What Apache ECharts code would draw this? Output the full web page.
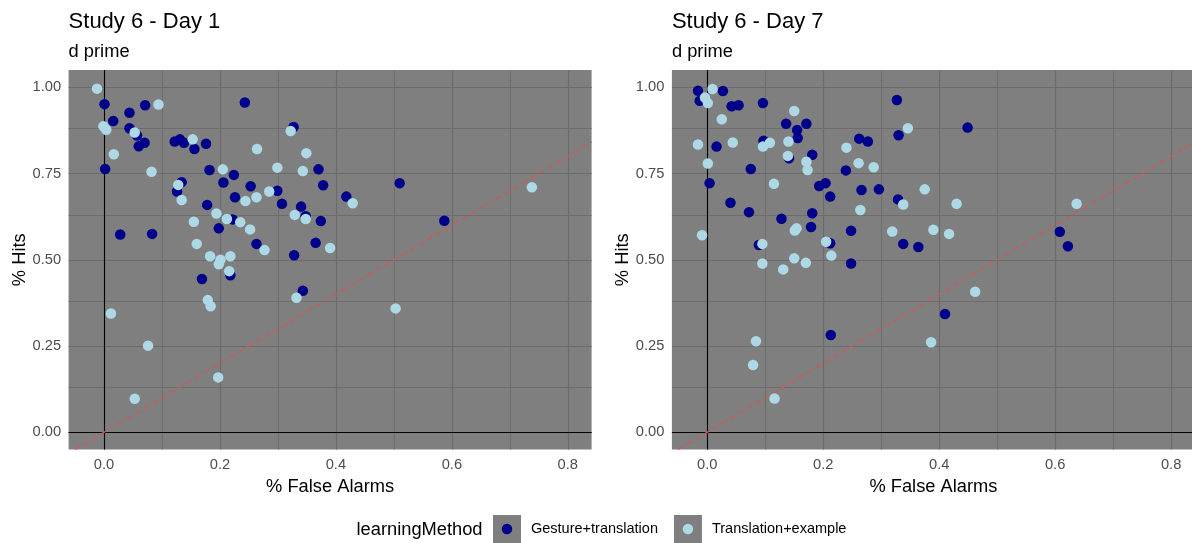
<!DOCTYPE html>
<html>
<head>
<meta charset="utf-8">
<script src="https://cdn.jsdelivr.net/npm/echarts@6/dist/echarts.min.js"></script>
<style>
  html, body { margin: 0; padding: 0; background: #ffffff; }
  #chart { width: 1192px; height: 543px; }
</style>
</head>
<body>
<div id="chart"></div>
<script>
// ---- data -------------------------------------------------------------
const panelTitles = ['Study 6 - Day 1', 'Study 6 - Day 7'];
const panelSubtitle = 'd prime';
const xAxisTitle = '% False Alarms';
const yAxisTitle = '% Hits';
const legendTitle = 'learningMethod';
const methods = ['Gesture+translation', 'Translation+example'];

// tick positions
const xMajor = [0, 0.2, 0.4, 0.6, 0.8];
const xMinor = [0.1, 0.3, 0.5, 0.7];
const yMajor = [0, 0.25, 0.5, 0.75, 1];
const yMinor = [0.125, 0.375, 0.625, 0.875];

// [false-alarm rate, hit rate] per participant
const day1Gesture = [
  [0.001, 0.951], [0.071, 0.948], [0.243, 0.956], [0.044, 0.926], [0.016, 0.902],
  [0.044, 0.881], [0.057, 0.860], [0.070, 0.839], [0.060, 0.829], [0.122, 0.843],
  [0.131, 0.849], [0.138, 0.839], [0.156, 0.821], [0.176, 0.836], [0.327, 0.885],
  [0.002, 0.763], [0.182, 0.760], [0.224, 0.746], [0.206, 0.724], [0.370, 0.762],
  [0.378, 0.716], [0.134, 0.725], [0.126, 0.698], [0.253, 0.713], [0.226, 0.681],
  [0.299, 0.700], [0.307, 0.662], [0.340, 0.654], [0.348, 0.626], [0.374, 0.612],
  [0.365, 0.549], [0.178, 0.659], [0.222, 0.617], [0.198, 0.591], [0.028, 0.573],
  [0.083, 0.575], [0.263, 0.546], [0.328, 0.513], [0.218, 0.455], [0.169, 0.444],
  [0.343, 0.410], [0.418, 0.683], [0.510, 0.722], [0.587, 0.613]
];
const day1Translation = [
  [-0.012, 0.996], [0.094, 0.950], [-0.001, 0.887], [0.004, 0.877], [0.053, 0.869],
  [0.017, 0.806], [0.153, 0.849], [0.322, 0.873], [0.264, 0.821], [0.349, 0.809],
  [0.082, 0.755], [0.205, 0.762], [0.299, 0.767], [0.343, 0.757], [0.128, 0.717],
  [0.134, 0.673], [0.244, 0.670], [0.263, 0.681], [0.285, 0.698], [0.329, 0.630],
  [0.348, 0.618], [0.390, 0.534], [0.194, 0.634], [0.212, 0.618], [0.235, 0.609],
  [0.252, 0.588], [0.155, 0.610], [0.160, 0.546], [0.277, 0.528], [0.183, 0.510],
  [0.201, 0.500], [0.218, 0.510], [0.198, 0.487], [0.216, 0.467], [0.332, 0.390],
  [0.179, 0.383], [0.184, 0.365], [0.012, 0.344], [0.076, 0.251], [0.197, 0.159],
  [0.053, 0.097], [0.429, 0.664], [0.738, 0.710], [0.503, 0.359]
];
const day7Gesture = [
  [-0.016, 0.990], [-0.013, 0.961], [0.027, 0.989], [0.042, 0.945], [0.054, 0.948],
  [0.096, 0.954], [0.136, 0.894], [0.171, 0.894], [0.155, 0.876], [0.156, 0.853],
  [0.016, 0.828], [0.097, 0.845], [0.181, 0.804], [0.141, 0.794], [0.075, 0.763],
  [0.004, 0.722], [0.262, 0.851], [0.277, 0.843], [0.327, 0.963], [0.330, 0.861],
  [0.239, 0.759], [0.193, 0.714], [0.204, 0.722], [0.212, 0.683], [0.266, 0.702],
  [0.296, 0.704], [0.329, 0.675], [0.040, 0.665], [0.072, 0.638], [0.128, 0.619],
  [0.181, 0.635], [0.179, 0.595], [0.248, 0.584], [0.338, 0.546], [0.364, 0.537],
  [0.089, 0.543], [0.212, 0.548], [0.248, 0.489], [0.213, 0.282], [0.449, 0.883],
  [0.608, 0.581], [0.622, 0.539], [0.410, 0.343]
];
const day7Translation = [
  [-0.004, 0.970], [0.001, 0.954], [0.009, 0.995], [0.025, 0.907], [0.150, 0.931],
  [-0.016, 0.834], [0.044, 0.840], [0.096, 0.828], [0.108, 0.839], [0.140, 0.843],
  [0.139, 0.801], [0.171, 0.784], [0.173, 0.760], [0.001, 0.779], [0.115, 0.720],
  [0.240, 0.825], [0.346, 0.881], [0.261, 0.780], [0.287, 0.768], [0.375, 0.704],
  [0.338, 0.660], [0.264, 0.644], [0.151, 0.585], [0.154, 0.591], [0.319, 0.582],
  [-0.009, 0.571], [0.095, 0.546], [0.205, 0.552], [0.214, 0.512], [0.095, 0.489],
  [0.131, 0.472], [0.150, 0.504], [0.170, 0.491], [0.084, 0.264], [0.079, 0.195],
  [0.116, 0.098], [0.386, 0.261], [0.430, 0.662], [0.390, 0.587], [0.417, 0.575],
  [0.637, 0.662], [0.462, 0.407]
];

const panelData = [
  [day1Gesture, day1Translation],
  [day7Gesture, day7Translation]
];

// ---- styling ----------------------------------------------------------
const FONT = '"Liberation Sans", Arial, Helvetica, sans-serif';
const methodColors = ['#00008B', '#ADD8E6'];
const PANEL_BG = '#7F7F7F';
const GRID_COLOR = '#6B6B6B';
const X_RANGE = [-0.061, 0.841];
const Y_RANGE = [-0.05, 1.05];
const panelLeft = [68.6, 671.9];
const PANEL_TOP = 70;
const PANEL_W = 523;
const PANEL_H = 379.5;

// legend key: a small dot centred in a 28x28 box
const DOT_ICON = 'path://M0,0M28,28M8.75,14A5.25,5.25,0,1,0,19.25,14A5.25,5.25,0,1,0,8.75,14Z';

const chart = echarts.init(document.getElementById('chart'), null, { renderer: 'canvas' });

const grids = [], xAxes = [], yAxes = [], series = [], titles = [];

panelLeft.forEach((left, i) => {
  grids.push({
    left: left, top: PANEL_TOP, width: PANEL_W, height: PANEL_H,
    show: true, backgroundColor: PANEL_BG, borderWidth: 0,
    containLabel: false, outerBoundsMode: 'none'
  });
  xAxes.push({
    type: 'value', gridIndex: i, min: X_RANGE[0], max: X_RANGE[1],
    axisLine: { show: false },
    axisTick: { show: true, length: 4, customValues: xMajor, lineStyle: { color: '#333333', width: 1 } },
    axisLabel: {
      show: true, customValues: xMajor, margin: 8,
      color: '#4D4D4D', fontSize: 14.7, fontFamily: FONT,
      formatter: v => v.toFixed(1)
    },
    splitLine: { show: false },
    name: xAxisTitle, nameLocation: 'middle', nameGap: 28,
    nameTextStyle: { color: '#000000', fontSize: 18.3, fontFamily: FONT }
  });
  yAxes.push({
    type: 'value', gridIndex: i, min: Y_RANGE[0], max: Y_RANGE[1],
    axisLine: { show: false },
    axisTick: { show: true, length: 4, customValues: yMajor, lineStyle: { color: '#333333', width: 1 } },
    axisLabel: {
      show: true, customValues: yMajor, margin: 7.5,
      color: '#4D4D4D', fontSize: 14.7, fontFamily: FONT,
      formatter: v => v.toFixed(2)
    },
    splitLine: { show: false },
    name: yAxisTitle, nameLocation: 'middle', nameGap: 39,
    nameTextStyle: { color: '#000000', fontSize: 18.3, fontFamily: FONT }
  });

  // panel grid lines (minor, then major) and the zero reference lines
  const gridLine = (key, v, w) => ({ [key]: v, lineStyle: { color: GRID_COLOR, width: w, type: 'solid' } });
  series.push({
    type: 'scatter', xAxisIndex: i, yAxisIndex: i, data: [], silent: true,
    markLine: {
      silent: true, symbol: ['none', 'none'], label: { show: false }, z: 1,
      animation: false, emphasis: { disabled: true },
      data: [
        ...xMinor.map(v => gridLine('xAxis', v, 0.9)),
        ...yMinor.map(v => gridLine('yAxis', v, 0.9)),
        ...xMajor.map(v => gridLine('xAxis', v, 1.2)),
        ...yMajor.map(v => gridLine('yAxis', v, 1.2)),
        { xAxis: 0, lineStyle: { color: '#000000', width: 1.1, type: 'solid' } },
        { yAxis: 0, lineStyle: { color: '#000000', width: 1.1, type: 'solid' } }
      ]
    }
  });

  // identity line y = x across the visible panel
  const lo = Math.max(X_RANGE[0], Y_RANGE[0]);
  const hi = Math.min(X_RANGE[1], Y_RANGE[1]);
  series.push({
    type: 'line', xAxisIndex: i, yAxisIndex: i, silent: true, z: 3,
    data: [[lo, lo], [hi, hi]], showSymbol: false, symbol: 'none',
    lineStyle: { color: '#D25858', width: 1.3, type: [6, 4] },
    emphasis: { disabled: true }, animation: false
  });

  panelData[i].forEach((pts, m) => {
    series.push({
      type: 'scatter', name: methods[m], xAxisIndex: i, yAxisIndex: i,
      data: pts, symbol: 'circle', symbolSize: 10.5, z: 5 + m,
      itemStyle: { color: methodColors[m], opacity: 1 },
      emphasis: { disabled: true }, animation: false
    });
  });

  titles.push({
    text: panelTitles[i], left: left, top: 10.7, padding: 0,
    textStyle: { color: '#000000', fontSize: 22, fontWeight: 'normal', fontFamily: FONT }
  });
  titles.push({
    text: panelSubtitle, left: left, top: 42.8, padding: 0,
    textStyle: { color: '#000000', fontSize: 18.3, fontWeight: 'normal', fontFamily: FONT }
  });
});

titles.push({
  text: legendTitle, left: 356.5, top: 521, padding: 0,
  textStyle: { color: '#000000', fontSize: 18.3, fontWeight: 'normal', fontFamily: FONT }
});

const legendBase = {
  orient: 'horizontal', left: 493, top: 515, padding: 0,
  itemWidth: 28, itemHeight: 28, itemGap: 16, selectedMode: false,
  symbolKeepAspect: true
};

const option = {
  animation: false,
  backgroundColor: '#ffffff',
  title: titles,
  grid: grids,
  xAxis: xAxes,
  yAxis: yAxes,
  legend: [
    Object.assign({}, legendBase, {
      z: 4,
      data: methods.map(n => ({ name: n, icon: 'rect', itemStyle: { color: PANEL_BG } })),
      textStyle: { color: '#000000', fontSize: 14.5, fontFamily: FONT, padding: [0, 0, 0, 5] }
    }),
    Object.assign({}, legendBase, {
      z: 5,
      data: methods.map(n => ({ name: n, icon: DOT_ICON })),
      textStyle: { color: 'rgba(0,0,0,0)', fontSize: 14.5, fontFamily: FONT, padding: [0, 0, 0, 5] }
    })
  ],
  series: series
};

chart.setOption(option);
</script>
</body>
</html>
